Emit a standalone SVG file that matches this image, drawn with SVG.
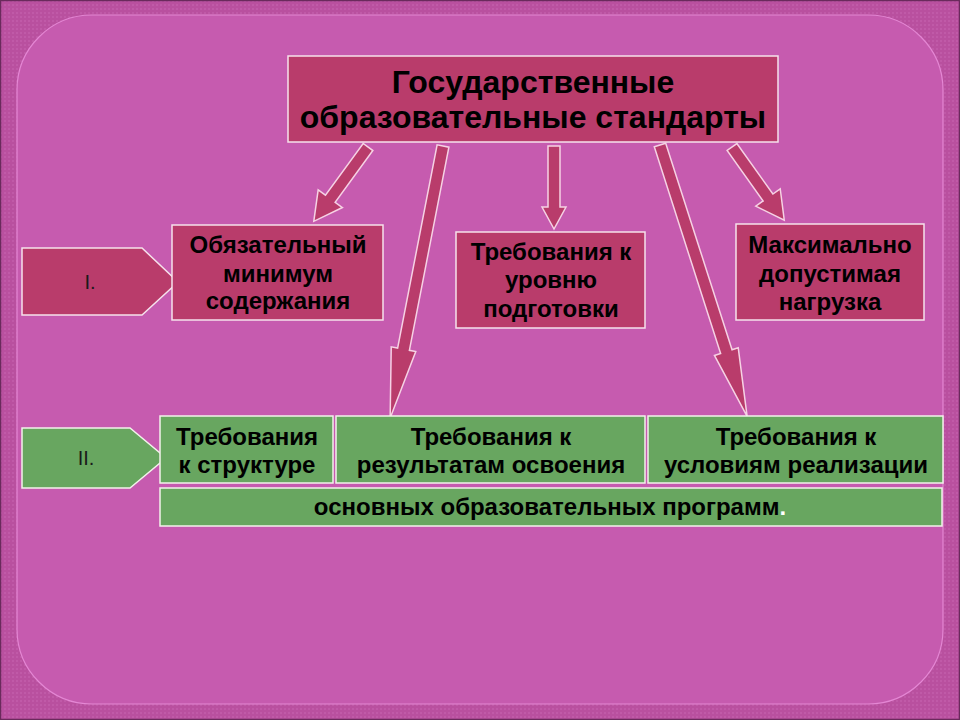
<svg xmlns="http://www.w3.org/2000/svg" width="960" height="720" viewBox="0 0 960 720">
<defs>
<pattern id="dots" width="4" height="4" patternUnits="userSpaceOnUse">
<rect width="4" height="4" fill="#B9509F"/>
<rect width="2" height="2" fill="#C05AA8"/>
</pattern>
<style>
.red{fill:#B93C6B;stroke:#F6E2EC;stroke-width:1.5}
.grn{fill:#68A660;stroke:#F2F2EA;stroke-width:1.5}
.arr{fill:#B93C6B;stroke:#F6D2E4;stroke-width:1.5;stroke-linejoin:miter}
.t{font-family:"Liberation Sans",Arial,sans-serif;font-weight:bold;fill:#000;text-anchor:middle;font-size:24px}
.n{font-family:"Liberation Sans",Arial,sans-serif;fill:#1a1a1a;text-anchor:middle;font-size:20px}
</style>
</defs>
<rect x="0" y="0" width="960" height="720" fill="url(#dots)"/>
<rect x="0.5" y="0.5" width="959" height="719" fill="none" stroke="#6a2a5c" stroke-width="1.5"/>
<rect x="17" y="15" width="926" height="689" rx="75" ry="75" fill="#C65BAF" stroke="#E487D4" stroke-width="1.2"/>

<g id="connectors">
<path class="arr" transform="translate(368,147) rotate(126.1)" d="M0,-6 L64,-6 L64,-15 L92,0 L64,15 L64,6 L0,6 Z"/>
<path class="arr" transform="translate(443,146) rotate(101)" d="M0,-6 L207,-6 L207,-12.5 L277,0 L207,12.5 L207,6 L0,6 Z"/>
<path class="arr" transform="translate(554,146) rotate(90)" d="M0,-6 L61,-6 L61,-12 L83,0 L61,12 L61,6 L0,6 Z"/>
<path class="arr" transform="translate(660,145) rotate(72.2)" d="M0,-6 L217,-6 L217,-12.5 L285,0 L217,12.5 L217,6 L0,6 Z"/>
<path class="arr" transform="translate(732,147) rotate(54.5)" d="M0,-6 L62,-6 L62,-15 L90,0 L62,15 L62,6 L0,6 Z"/>
</g>

<g id="title">
<rect class="red" x="288" y="56" width="490" height="86"/>
<text class="t" x="533" y="93" style="font-size:32px">Государственные</text>
<text class="t" x="533" y="128" style="font-size:32px">образовательные стандарты</text>
</g>

<g id="level1">
<path class="red" d="M22,248 L142,248 L178,282 L142,315 L22,315 Z"/>
<text class="n" x="90" y="289">I.</text>
</g>

<g id="minimum">
<rect class="red" x="172" y="225" width="211" height="95"/>
<text class="t" x="278" y="253">Обязательный</text>
<text class="t" x="278" y="282">минимум</text>
<text class="t" x="278" y="309">содержания</text>
</g>

<g id="preparation">
<rect class="red" x="456" y="232" width="189" height="96"/>
<text class="t" x="551" y="260">Требования к</text>
<text class="t" x="551" y="288">уровню</text>
<text class="t" x="551" y="317">подготовки</text>
</g>

<g id="load">
<rect class="red" x="736" y="224" width="188" height="96"/>
<text class="t" x="830" y="253">Максимально</text>
<text class="t" x="830" y="282">допустимая</text>
<text class="t" x="830" y="310">нагрузка</text>
</g>

<g id="level2">
<path class="grn" d="M22,428 L130,428 L166,458 L130,488 L22,488 Z"/>
<text class="n" x="86" y="465">II.</text>
</g>

<g id="structure">
<rect class="grn" x="160" y="416" width="173" height="67"/>
<text class="t" x="247" y="445">Требования</text>
<text class="t" x="247" y="473">к структуре</text>
</g>

<g id="results">
<rect class="grn" x="336" y="416" width="309" height="67"/>
<text class="t" x="491" y="445">Требования к</text>
<text class="t" x="491" y="473">результатам освоения</text>
</g>

<g id="conditions">
<rect class="grn" x="648" y="416" width="295" height="67"/>
<text class="t" x="796" y="445">Требования к</text>
<text class="t" x="796" y="473">условиям реализации</text>
</g>

<g id="programs">
<rect class="grn" x="160" y="488" width="782" height="38"/>
<text class="t" x="550" y="515">основных образовательных программ<tspan fill="#ffffff">.</tspan></text>
</g>
</svg>
